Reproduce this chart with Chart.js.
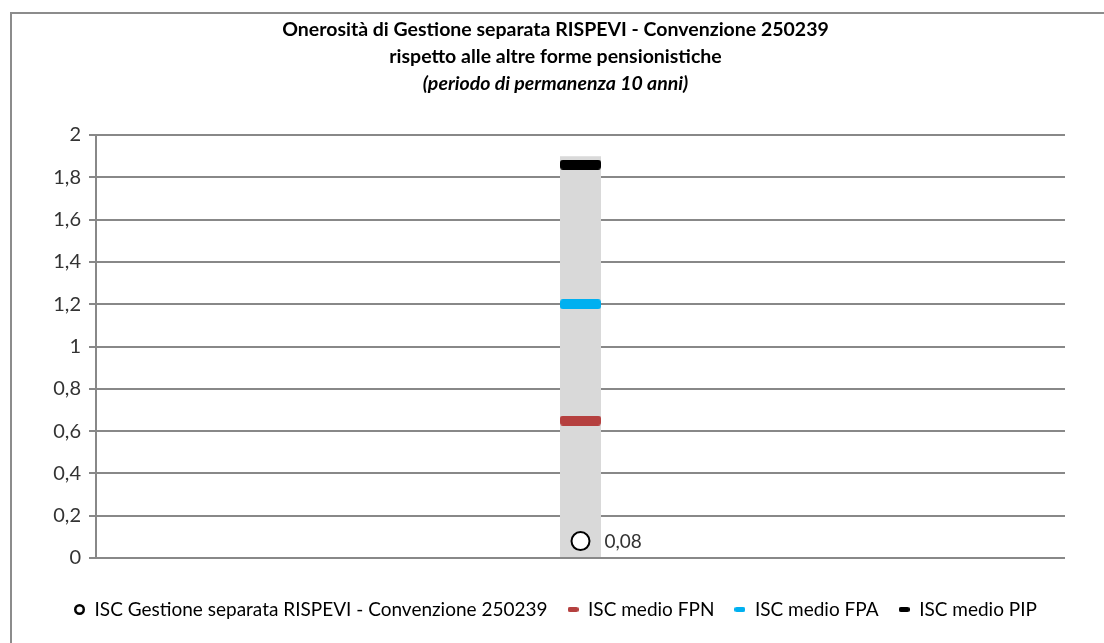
<!DOCTYPE html>
<html><head><meta charset="utf-8">
<script src="https://cdn.jsdelivr.net/npm/chart.js@4.4.0/dist/chart.umd.min.js"></script>
<style>
html,body{margin:0;padding:0;background:#fff;overflow:hidden}
#wrap{position:relative;width:1104px;height:643px;overflow:hidden}
#frame{position:absolute;left:10px;top:12px;width:1200px;height:700px;border-left:2px solid #8c8c8c;border-top:2px solid #8c8c8c}
canvas{position:absolute;left:0;top:0}
</style></head><body>
<div id="wrap"><div id="frame"></div><canvas id="c" width="1104" height="643"></canvas></div>
<script>
const categories = [''];
const rangeMin = [0];
const rangeMax = [1.9];
const iscGestione = [0.08];
const iscFPN = [0.65];
const iscFPA = [1.2];
const iscPIP = [1.86];
const yTicks = [0, 0.2, 0.4, 0.6, 0.8, 1, 1.2, 1.4, 1.6, 1.8, 2];
const seriesNames = ['ISC Gestione separata RISPEVI - Convenzione 250239', 'ISC medio FPN', 'ISC medio FPA', 'ISC medio PIP'];
const titleLines = ['Onerosità di Gestione separata RISPEVI - Convenzione 250239', 'rispetto alle altre forme pensionistiche'];
const subtitleLine = '(periodo di permanenza 10 anni)';
const colors = ['#000000', '#b5403f', '#00b0f0', '#000000'];

const FONT = 'Lato, "Liberation Sans", sans-serif';
const fmt = v => String(v).replace('.', ',');

function makeDash(w, h, color, r) {
  const c = document.createElement('canvas');
  c.width = w; c.height = h;
  const g = c.getContext('2d');
  g.fillStyle = color;
  g.beginPath();
  g.roundRect(0, 0, w, h, r);
  g.fill();
  return c;
}
function makeRing(d, lw) {
  const c = document.createElement('canvas');
  c.width = d; c.height = d;
  const g = c.getContext('2d');
  g.fillStyle = '#fff';
  g.strokeStyle = '#000';
  g.lineWidth = lw;
  g.beginPath();
  g.arc(d / 2, d / 2, d / 2 - lw / 2, 0, Math.PI * 2);
  g.fill(); g.stroke();
  return c;
}

const bigDash = colors.map(c => makeDash(41, 10, c, 3));
const smallDash = colors.map(c => makeDash(11, 5, c, 2));
const smallRing = makeRing(11, 2.5);

const valueLabel = {
  id: 'valueLabel',
  afterDatasetsDraw(chart) {
    const meta = chart.getDatasetMeta(0);
    const ctx = chart.ctx;
    ctx.save();
    ctx.font = '19px ' + FONT;
    ctx.fillStyle = '#333';
    ctx.textBaseline = 'middle';
    ctx.textAlign = 'left';
    meta.data.forEach((pt, i) => {
      ctx.fillText(fmt(iscGestione[i]), pt.x + 24, pt.y + 1);
    });
    ctx.restore();
  }
};

const pointSeries = [iscGestione, iscFPN, iscFPA, iscPIP];
const datasets = pointSeries.map((data, i) => ({
  type: 'line',
  label: seriesNames[i],
  data: data,
  showLine: false,
  pointStyle: i === 0 ? 'circle' : bigDash[i],
  pointRadius: i === 0 ? 9 : 10,
  pointHoverRadius: i === 0 ? 9 : 10,
  pointBackgroundColor: '#fff',
  pointBorderColor: colors[i],
  pointBorderWidth: 2,
  order: i === 0 ? 0 : 1
}));
datasets.push({
  type: 'bar',
  label: 'range',
  data: categories.map((_, i) => [rangeMin[i], rangeMax[i]]),
  backgroundColor: '#d9d9d9',
  barPercentage: 0.0423,
  categoryPercentage: 1,
  order: 10
});

new Chart(document.getElementById('c'), {
  type: 'bar',
  data: { labels: categories, datasets },
  plugins: [valueLabel],
  options: {
    responsive: false,
    animation: false,
    devicePixelRatio: 1,
    layout: { padding: { left: 46, right: 39, top: 0, bottom: 14 } },
    plugins: {
      tooltip: { enabled: false },
      title: {
        display: true,
        text: titleLines,
        color: '#000',
        font: { family: FONT, size: 19.5, weight: 'bold', lineHeight: 1.385 },
        padding: { top: 16, bottom: 0 }
      },
      subtitle: {
        display: true,
        text: subtitleLine,
        color: '#000',
        font: { family: FONT, size: 19.5, weight: 'bold', style: 'italic', lineHeight: 1.385 },
        padding: { top: 0, bottom: 38 }
      },
      legend: {
        position: 'bottom',
        labels: {
          usePointStyle: true,
          pointStyleWidth: 11,
          color: '#333',
          font: { family: FONT, size: 19 },
          padding: 20,
          boxHeight: 11,
          filter: item => item.datasetIndex < 4,
          generateLabels: chart => seriesNames.map((n, i) => ({
            text: n,
            datasetIndex: i,
            pointStyle: i === 0 ? smallRing : smallDash[i],
            fillStyle: colors[i],
            strokeStyle: colors[i],
            lineWidth: 0,
            hidden: false
          }))
        }
      }
    },
    scales: {
      x: {
        display: true,
        grid: { display: false },
        border: { display: false },
        ticks: { display: false },
        afterFit: s => { s.height = 22; }
      },
      y: {
        min: 0, max: 2,
        afterBuildTicks: s => { s.ticks = yTicks.map(v => ({ value: v })); },
        afterFit: s => { s.width = 50; },
        grid: { color: '#888', lineWidth: 2, tickLength: 7, drawTicks: true },
        border: { color: '#888', width: 2 },
        ticks: {
          color: '#333',
          font: { family: FONT, size: 20 },
          padding: 8,
          callback: v => fmt(v)
        }
      }
    }
  }
});
</script>
</body></html>
